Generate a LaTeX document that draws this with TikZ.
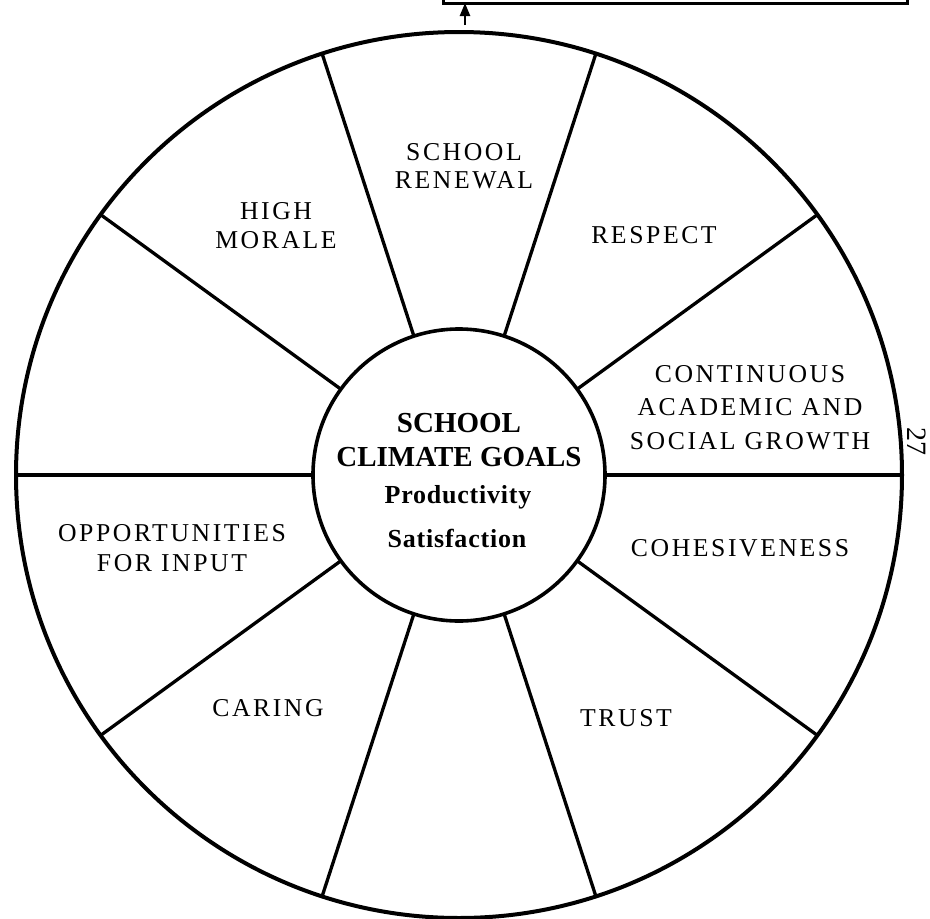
\documentclass[tikz,border=0pt]{standalone}
\usepackage{fontspec}
\setmainfont{Liberation Serif}
\newfontfamily\lblfont[LetterSpace=10]{Liberation Serif}
\newfontfamily\subfont[LetterSpace=3]{Liberation Serif}
\usetikzlibrary{arrows.meta}
\begin{document}
\begin{tikzpicture}[x=1pt,y=-1pt,
  ring/.style={circle, draw, inner sep=0pt, outer sep=0pt},
  spoke/.style={line width=3.3pt},
  lbl/.style={align=center, inner sep=0pt, font=\lblfont\fontsize{25.7}{29}\selectfont},
  goal/.style={align=center, inner sep=0pt, font=\bfseries\fontsize{29}{34}\selectfont},
  sub/.style={anchor=base, inner sep=0pt, font=\subfont\bfseries\fontsize{26}{30}\selectfont},
  topbox/.style={draw, line width=3pt, inner sep=0pt, outer sep=0pt},
  uparrow/.style={line width=2.4pt, -{Triangle[width=10pt,length=13pt]}}]
\useasboundingbox (0,0) rectangle (930,919);
\clip (0,0) rectangle (930,919);
% wheel
\node[ring, line width=4pt, minimum size=886pt] (outer) at (459,475) {};
\node[ring, line width=3.6pt, minimum size=292pt] (inner) at (459,475) {};
\foreach \a in {0,36,...,324} \draw[spoke] (inner.\a) -- (outer.\a);
% box above and arrow
\node[topbox, minimum width=464pt, minimum height=60pt, anchor=south west] (box) at (443,3) {};
\coordinate (arrowfoot) at (465,25);
\draw[uparrow] (arrowfoot) -- (arrowfoot |- box.south);
% centre
\node[goal] (goals) at (459,440.5) {SCHOOL\\CLIMATE GOALS};
\node[sub] (prod) at (458,503) {Productivity};
\node[sub] (sat) at (457,547) {Satisfaction};
% segment labels
\node[lbl] (renewal) at (464,166.5) {SCHOOL\\[-1pt]RENEWAL};
\node[lbl] (morale) at (276,225.5) {HIGH\\MORALE};
\node[lbl] (respect) at (654,235.5) {RESPECT};
\node[lbl] (growth) at (750,407.5) {CONTINUOUS\\[4.5pt]ACADEMIC AND\\[4.5pt]SOCIAL GROWTH};
\node[lbl] (cohesion) at (740,548) {COHESIVENESS};
\node[lbl] (trust) at (626,718) {TRUST};
\node[lbl] (caring) at (268,708) {CARING};
\node[lbl] (input) at (172,548) {OPPORTUNITIES\\[1pt]FOR INPUT};
% page number
\node[rotate=-90, inner sep=0pt, font=\fontsize{28}{30}\selectfont] (pagenum) at (917,441) {27};
\end{tikzpicture}
\end{document}
